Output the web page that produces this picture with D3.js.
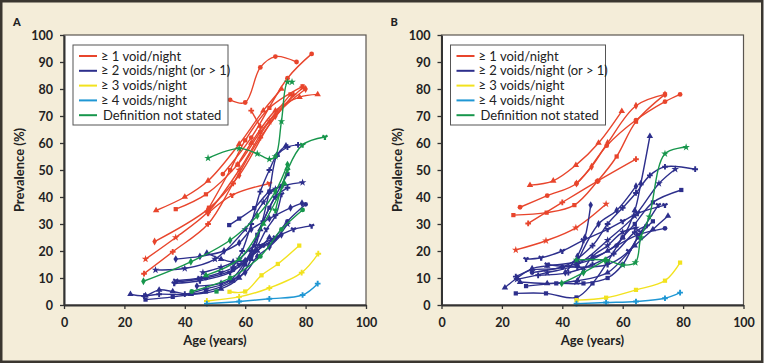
<!DOCTYPE html>
<html>
<head>
<meta charset="utf-8">
<script src="https://cdn.jsdelivr.net/npm/d3@7"></script>
<style>
  body { margin: 0; background: #fff; }
  svg { display: block; }
</style>
</head>
<body>
<div id="chart"></div>
<script>
"use strict";

// legend categories + colours
var categories = ["\u2265 1 void/night", "\u2265 2 voids/night (or > 1)", "\u2265 3 voids/night", "\u2265 4 voids/night", "Definition not stated"];
var catColors = ["#e8452c", "#2d2f8c", "#f2e21e", "#1f97d4", "#17964c"];

var xTicks = [0, 20, 40, 60, 80, 100];
var yTicks = [0, 10, 20, 30, 40, 50, 60, 70, 80, 90, 100];

// panel A : [age, prevalence] per study
var aOneVoid = [
  [[55,76],[60,75],[65,88],[70,92],[77,90]],
  [[30.5,35],[40,40],[47.7,46],[58,59.6],[66,72],[72,80]],
  [[37,35.5],[47,41],[57.5,52],[65,64],[75,78]],
  [[26.5,11.6],[36,19.7],[47.7,30],[56,45],[65,62],[76,78]],
  [[27,17],[37,25],[47.7,34.5],[58,50],[68,68],[79,80.5]],
  [[30,23.5],[47.7,35.5],[58,48],[70,70],[80,80]],
  [[47.7,34],[55.7,40.7],[68,45]],
  [[52.6,48.5],[62,62],[74,84],[82,93]],
  [[57.5,52],[62,60],[70,72],[78,77],[84,78]],
  [[48,36],[55,50],[60,61],[68,73],[79,81]],
  [[62,72],[65,66]]
];
var aTwoVoids = [
  [[22,4],[27,3.5],[31.5,5.6],[36,5],[42,4],[52,6],[58,10],[62,17],[65,28],[68,42],[70.5,55.5],[73.5,59]],
  [[27,2],[36,3],[47,5],[56,9],[60,15],[64,26],[68,36],[74,48.5]],
  [[26.5,3.3],[31.5,4],[40,4],[47,6],[55,9],[62,20],[66,31],[70,40],[74,43.4]],
  [[30.3,13],[40,13.5],[50,17],[60,28],[66,38],[70,43],[79,45.4]],
  [[37,17],[45,18],[53,20],[58,23],[62,28],[68,32],[75,36],[78.8,37.7]],
  [[36.5,8],[45,9],[55,12],[60,16],[65,22],[70,25],[76,28],[82,29.3]],
  [[37,8.5],[47,10],[56,13],[62,18],[66,22],[69,24],[74,31],[80,37.3]],
  [[47.3,19.3],[52,17],[56,16],[60,16.5],[64,20],[68,25]],
  [[54.7,29.6],[58,32],[63,35.9],[68,42],[72,44]],
  [[56,14],[59,20],[62,30],[65,42],[68,50],[70.5,55.5],[74,58.5],[77.5,59.3]],
  [[46,12],[52,14],[58,17],[63,22],[68,22.5],[74,30]],
  [[44,7],[52,8],[60,12],[64,18],[68,21.5],[72,26]],
  [[37,9],[45,10],[52,12],[58,15],[63,20],[67,28],[70,33],[72,41]]
];
var aThreeVoids = [
  [[54.8,4.9],[60,5],[65.4,11],[70.8,15.2],[77.9,22]],
  [[47.3,1.5],[58,3],[68,6.3],[78.7,12],[84.2,19]]
];
var aFourVoids = [
  [[47.3,0.5],[58,1.3],[68,2.3],[79,3.7],[84,7.9]]
];
var aNotStated = [
  [[47.7,54.4],[58,58],[64,56],[68,54],[70,55],[72,68],[74,82.6],[75.5,82.6]],
  [[26.3,8.8],[42,16],[55,24],[64,33],[70,42],[74,52]],
  [[70,35],[74,50],[79,59.3],[86.4,62.2]],
  [[42.3,5],[55,10],[65,18],[72,28],[79,35.2]],
  [[47,11],[58,17],[66,30],[73,45]],
  [[50.5,5]]
];

// panel B
var bOneVoid = [
  [[26,36.2],[35,40.5],[44.7,45],[54.7,59],[64.4,68.5],[74,75.3],[79,78]],
  [[29.3,44.4],[37,46],[44.5,51.8],[52,60],[59.7,71.8]],
  [[23.8,33.3],[34.8,34.2],[44,37],[51.7,45.9],[58,55],[64.4,67.9],[74,78]],
  [[28.7,30.2],[40,38],[51.7,45.9],[64.4,54]],
  [[24.6,20.4],[34.6,23.8],[44.5,28.6],[54.5,37.4]],
  [[44.7,45],[49.7,51.2],[55,60],[64.4,73.8],[74,78]]
];
var bTwoVoids = [
  [[21,6.4],[25,10],[30,13.5],[35,14.5],[45,16],[55,20],[60,25],[64,35],[66,45],[69,62.5]],
  [[24.6,4.3],[34.6,4.3],[44.7,2.8],[50,8],[55,16],[60,25],[64,30],[70,38],[79.4,42.6]],
  [[24.6,10.5],[30,13],[40,14],[50,22],[55,30],[60,36],[64.4,41.5],[69,48],[74,51.2],[84,50.3]],
  [[25,9.5],[35,12],[45,15],[55,24],[64,33],[72,45],[77.4,50.3]],
  [[41,12],[45,18],[47.5,25],[49.4,37]],
  [[28,17],[33,17.5],[40,20],[47,24],[55,28],[60,31],[65,34],[74,37]],
  [[30,12],[40,14],[50,17],[58,22],[65,26],[74,28.4]],
  [[26,8.5],[35,8],[45,9],[55,12],[64,22],[70,28],[75,33]],
  [[28,7],[38,8],[47,8],[55,10],[60,15],[65,25],[70,31]],
  [[32,11],[42,12],[50,15],[57,19],[64,27],[68,29.5]],
  [[44.7,8.5],[47,13],[50,18],[55,22],[60,27],[64.4,28.5]],
  [[45,16],[52,30],[58,35],[64.4,44]],
  [[35,15],[45,14],[55,15],[62,20],[66,27],[71.8,37]]
];
var bThreeVoids = [
  [[44.7,1.8],[54.5,2.7],[64.4,5.6],[74,9],[79,15.7]]
];
var bFourVoids = [
  [[44.7,0.5],[54.5,0.9],[64.4,1.3],[74,2.5],[79,4.6]]
];
var bNotStated = [
  [[44.7,16.7],[54.7,16.6],[60,14.8],[64.2,15.7],[66,25],[68.8,32.7],[74,56],[81,58.4]],
  [[39.8,8],[47,12],[54.2,16.6]]
];

var width = 765, height = 364;

var svg = d3.select("#chart").append("svg")
    .attr("width", width)
    .attr("height", height);

// beige frame
svg.append("rect")
    .attr("x", 1.25).attr("y", 1.25)
    .attr("width", 761).attr("height", 360.5)
    .attr("fill", "#f4edd9")
    .attr("stroke", "#3a3630")
    .attr("stroke-width", 2.5);

var shapes = [d3.symbolCircle, d3.symbolTriangle, d3.symbolSquare, d3.symbolCross, d3.symbolStar, d3.symbolDiamond, d3.symbolWye];

function drawPanel(offset, label, groups) {
  var x = d3.scaleLinear().domain([0, 100]).range([64 + offset, 366 + offset]);
  var y = d3.scaleLinear().domain([0, 100]).range([305, 35]);

  var g = svg.append("g");

  //plot area
  g.append("rect")
      .attr("x", x(0)).attr("y", y(100))
      .attr("width", x(100) - x(0)).attr("height", y(0) - y(100))
      .attr("fill", "#fff")
      .attr("stroke", "#5a5650")
      .attr("stroke-width", 1.2);

  var line = d3.line()
      .x(function(d) { return x(d[0]); })
      .y(function(d) { return y(d[1]); })
      .curve(d3.curveCatmullRom.alpha(0.5));

  groups.forEach(function(grp) {
    var col = catColors[grp.cat];
    grp.lines.forEach(function(pts, i) {
      g.append("path")
          .datum(pts)
          .attr("d", line)
          .attr("fill", "none")
          .attr("stroke", col)
          .attr("stroke-width", 1.4);
      g.selectAll(null)
          .data(pts)
          .enter()
          .append("path")
          .attr("transform", function(d) { return "translate(" + x(d[0]) + "," + y(d[1]) + ")"; })
          .attr("d", d3.symbol().type(shapes[(i + grp.cat) % shapes.length]).size(18))
          .attr("fill", col);
    });
  });

  //axes
  var xAxis = g.append("g")
      .attr("transform", "translate(0," + y(0) + ")")
      .call(d3.axisBottom(x).tickValues(xTicks).tickSize(4).tickPadding(9).tickSizeOuter(0));
  var yAxis = g.append("g")
      .attr("transform", "translate(" + x(0) + ",0)")
      .call(d3.axisLeft(y).tickValues(yTicks).tickSize(4).tickPadding(7).tickSizeOuter(0));

  [xAxis, yAxis].forEach(function(ax) {
    ax.select(".domain").attr("stroke", "#333").attr("stroke-width", 2);
    ax.selectAll(".tick line").attr("stroke", "#333").attr("stroke-width", 1.3);
    ax.selectAll(".tick text")
        .attr("fill", "#222")
        .style("font-family", "Lato, sans-serif")
        .style("font-weight", "bold")
        .style("font-size", "12.5px");
  });

  g.append("text")
      .attr("x", (x(0) + x(100)) / 2)
      .attr("y", 345)
      .attr("text-anchor", "middle")
      .attr("fill", "#222")
      .style("font-family", "Lato, sans-serif")
      .style("font-weight", "bold")
      .style("font-size", "13px")
      .text("Age (years)");

  g.append("text")
      .attr("transform", "translate(" + (24 + offset) + ",170) rotate(-90)")
      .attr("text-anchor", "middle")
      .attr("fill", "#222")
      .style("font-family", "Lato, sans-serif")
      .style("font-weight", "bold")
      .style("font-size", "13px")
      .text("Prevalence (%)");

  g.append("text")
      .attr("x", 13 + offset)
      .attr("y", 25.5)
      .attr("fill", "#222")
      .style("font-family", "Lato, sans-serif")
      .style("font-weight", "900")
      .style("font-size", "11px")
      .text(label);

  //legend
  var lg = g.append("g").attr("transform", "translate(" + (73 + offset) + ",45)");
  lg.append("rect")
      .attr("width", 155).attr("height", 80)
      .attr("fill", "#fff")
      .attr("stroke", "#555")
      .attr("stroke-width", 1);
  var item = lg.selectAll("g.item")
      .data(categories)
      .enter()
      .append("g")
      .attr("transform", function(d, i) { return "translate(0," + (11 + i * 14.8) + ")"; });
  item.append("line")
      .attr("x1", 6).attr("x2", 24)
      .attr("stroke", function(d, i) { return catColors[i]; })
      .attr("stroke-width", 2);
  item.append("text")
      .attr("x", function(d, i) { return i == 4 ? 30 : 28; })
      .attr("dy", "0.35em")
      .attr("fill", "#222")
      .style("font-family", "Lato, sans-serif")
      .style("font-size", "13px")
      .text(function(d) { return d; });
}

drawPanel(0, "A", [
  {cat: 0, lines: aOneVoid},
  {cat: 1, lines: aTwoVoids},
  {cat: 2, lines: aThreeVoids},
  {cat: 3, lines: aFourVoids},
  {cat: 4, lines: aNotStated}
]);
drawPanel(377.5, "B", [
  {cat: 0, lines: bOneVoid},
  {cat: 1, lines: bTwoVoids},
  {cat: 2, lines: bThreeVoids},
  {cat: 3, lines: bFourVoids},
  {cat: 4, lines: bNotStated}
]);
</script>
</body>
</html>
